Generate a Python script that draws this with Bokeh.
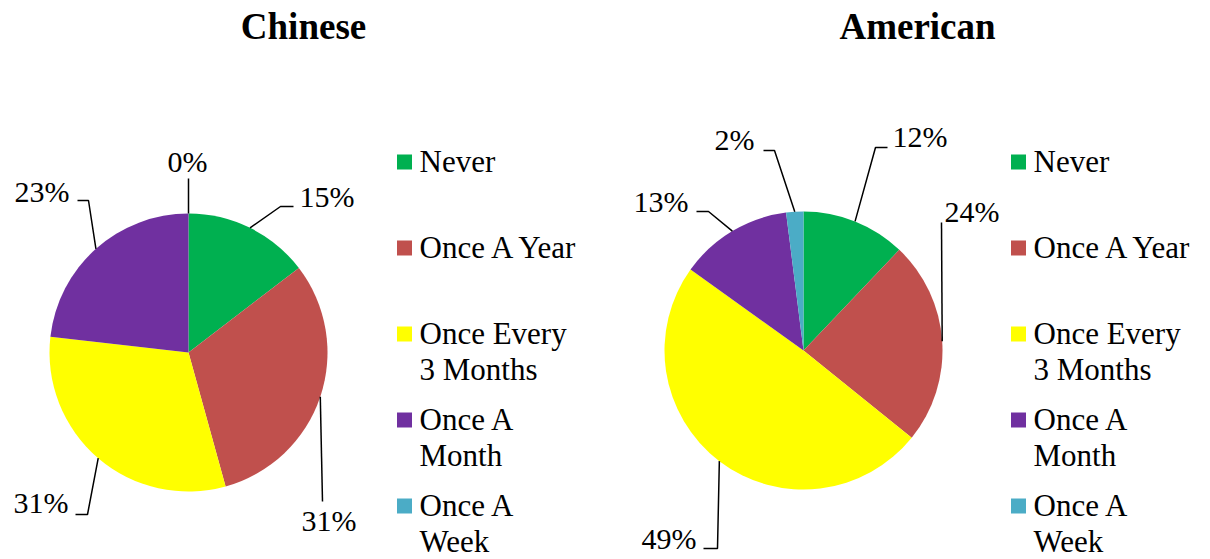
import math
from bokeh.plotting import figure
from bokeh.models import Range1d, ColumnDataSource
from bokeh.core.properties import value
from bokeh.embed import file_html
from bokeh.resources import INLINE

# ---------------- data ----------------
categories = ["Never", "Once A Year", "Once Every 3 Months", "Once A Month", "Once A Week"]
legend_labels = ["Never", "Once A Year", "Once Every\n3 Months", "Once A\nMonth", "Once A\nWeek"]
chinese_values = [14.6, 31.1, 31.1, 23.2, 0.0]
american_values = [12.1, 23.7, 49.1, 13.1, 2.0]
titles = ["Chinese", "American"]
colors = ["#00B050", "#C0504D", "#FFFF00", "#7030A0", "#4BACC6"]

# ---------------- layout (screen px) ----------------
W, H = 1210, 559
FONT = "Liberation Serif"
R = 139
TDY = -11  # text baseline correction

def Y(sy):
    return H - sy

def TY(sy):
    return H - (sy + TDY)

pies = [
    dict(values=chinese_values, title=titles[0], cx=188, cy=352, title_x=303,
         legend_sq_x=404, legend_tx=419,
         elbows=[(280, 206), (322, 501), (87, 514), (88, 200), (188, 178)],
         ends=[(293, 206), (322, 501), (75, 514), (77, 200), (188, 178)],
         texts=[(299, 207, "left"), (301, 531, "left"), (68, 513, "right"),
                (69, 202, "right"), (187, 172, "center")]),
    dict(values=american_values, title=titles[1], cx=803, cy=350, title_x=917,
         legend_sq_x=1018, legend_tx=1033,
         elbows=[(875, 147), (941, 222), (717, 548), (708, 211), (774, 150)],
         ends=[(887, 147), (941, 222), (703, 548), (696, 211), (763, 150)],
         texts=[(892, 147, "left"), (944, 222, "left"), (696, 549, "right"),
                (688, 212, "right"), (754, 150, "right")]),
]
legend_base_y = 171.5
legend_step = 86
legend_line_h = 36.5

p = figure(width=W, height=H, output_backend="svg", toolbar_location=None,
           x_range=Range1d(0, W), y_range=Range1d(0, H),
           x_axis_type=None, y_axis_type=None, min_border=0)
p.outline_line_color = None
p.grid.visible = False
p.background_fill_color = "white"

for pie in pies:
    vals = pie["values"]
    total = sum(vals)
    cum = [0.0]
    for v in vals:
        cum.append(cum[-1] + v / total)
    idx = [i for i, v in enumerate(vals) if v > 0]
    src = ColumnDataSource(dict(
        x=[pie["cx"]] * len(idx), y=[Y(pie["cy"])] * len(idx),
        s=[math.pi / 2 - 2 * math.pi * cum[i + 1] for i in idx],
        e=[math.pi / 2 - 2 * math.pi * cum[i] for i in idx],
        c=[colors[i] for i in idx], cat=[categories[i] for i in idx]))
    p.wedge(x="x", y="y", radius=R, radius_units="screen", start_angle="s", end_angle="e",
            direction="anticlock", fill_color="c", line_color=None, source=src)

    # leader lines and labels
    xs, ys = [], []
    for i, v in enumerate(vals):
        mid = 2 * math.pi * (cum[i] + cum[i + 1]) / 2
        ax = pie["cx"] + R * math.sin(mid)
        ay = pie["cy"] - R * math.cos(mid)
        ex, ey = pie["elbows"][i]
        fx, fy = pie["ends"][i]
        xs.append([ax, ex, fx])
        ys.append([Y(ay), Y(ey), Y(fy)])
    p.multi_line(xs=xs, ys=ys, line_color="black", line_width=1.5)
    for i, v in enumerate(vals):
        tx, ty, al = pie["texts"][i]
        p.text(x=[tx], y=[TY(ty)], text=[f"{round(v)}%"], text_font=value(FONT),
               text_font_size="30px", text_align=al, text_baseline="alphabetic",
               text_color="black")

    # title
    p.text(x=[pie["title_x"]], y=[TY(37)], text=[pie["title"]], text_font=value(FONT),
           text_font_size="37px", text_font_style="bold", text_align="center",
           text_baseline="alphabetic", text_color="black")

    # legend
    for i, lab in enumerate(legend_labels):
        by = legend_base_y + i * legend_step
        p.scatter(x=[pie["legend_sq_x"]], y=[Y(by - 10)], marker="square", size=15,
                  fill_color=colors[i], line_color=None)
        for j, line in enumerate(lab.split("\n")):
            p.text(x=[pie["legend_tx"]], y=[TY(by + j * legend_line_h)], text=[line],
                   text_font=value(FONT), text_font_size="31px", text_align="left",
                   text_baseline="alphabetic", text_color="black")

open("out.html", "w").write(file_html(p, INLINE))
